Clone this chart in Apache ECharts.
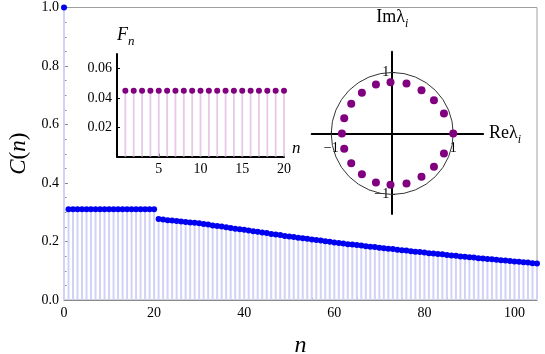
<!DOCTYPE html>
<html>
<head>
<meta charset="utf-8">
<script src="https://cdn.jsdelivr.net/npm/echarts@6/dist/echarts.min.js"></script>
<style>
  html, body { margin: 0; padding: 0; background: #fff; }
  #chart { width: 545px; height: 354px; }
</style>
</head>
<body>
<div id="chart"></div>
<script>
// C(n), n = 0 .. 105 (index is n)
const corr = [
  1.0,
  0.31, 0.31, 0.31, 0.31, 0.31, 0.31, 0.31, 0.31, 0.31, 0.31,
  0.31, 0.31, 0.31, 0.31, 0.31, 0.31, 0.31, 0.31, 0.31, 0.31,
  0.277, 0.275, 0.273, 0.272, 0.270, 0.268, 0.267, 0.265, 0.264, 0.262,
  0.260, 0.258, 0.255, 0.253, 0.251, 0.249, 0.246, 0.244, 0.242, 0.240,
  0.238, 0.235, 0.233, 0.231, 0.229, 0.226, 0.224, 0.222, 0.219, 0.217,
  0.215, 0.213, 0.211, 0.209, 0.207, 0.205, 0.203, 0.201, 0.199, 0.197,
  0.195, 0.193, 0.191, 0.190, 0.188, 0.186, 0.184, 0.182, 0.181, 0.179,
  0.177, 0.175, 0.174, 0.172, 0.170, 0.169, 0.167, 0.165, 0.164, 0.162,
  0.160, 0.159, 0.157, 0.156, 0.154, 0.152, 0.151, 0.149, 0.148, 0.146,
  0.145, 0.143, 0.142, 0.140, 0.139, 0.138, 0.136, 0.135, 0.133, 0.132,
  0.131, 0.129, 0.128, 0.126, 0.125
]

// F_n, n = 1 .. 20
const fN = [1, 2, 3, 4, 5, 6, 7, 8, 9, 10, 11, 12, 13, 14, 15, 16, 17, 18, 19, 20]
const fVals = [0.045, 0.045, 0.045, 0.045, 0.045, 0.045, 0.045, 0.045, 0.045, 0.045,
               0.045, 0.045, 0.045, 0.045, 0.045, 0.045, 0.045, 0.045, 0.045, 0.045]

// eigenvalues lambda_i
const eigRe = [1.0, 0.848, 0.684, 0.480, 0.234, -0.028, -0.267, -0.497, -0.672, -0.787,
               -0.825, -0.787, -0.672, -0.497, -0.267, -0.028, 0.234, 0.480, 0.684, 0.848]
const eigIm = [0, 0.328, 0.546, 0.710, 0.820, 0.841, 0.803, 0.667, 0.487, 0.251,
               0, -0.251, -0.487, -0.667, -0.803, -0.841, -0.820, -0.710, -0.546, -0.328]

const serif = 'Liberation Serif'
const corrPts = corr.map((v, i) => [i, v])
const fPts = fVals.map((v, i) => [fN[i], v])
const eigPts = eigRe.map((r, i) => [r, eigIm[i]])

const grey = '#8a8a8a'
const chart = echarts.init(document.getElementById('chart'))

chart.setOption({
  animation: false,
  grid: [
    { left: 64, right: 8, top: 7.5, bottom: 54, outerBoundsMode: 'none', show: true, borderColor: '#a0a0a0', borderWidth: 1 },
    { left: 117, right: 261, top: 54, bottom: 197.4, outerBoundsMode: 'none' },
    { left: 311.7, right: 61.9, top: 51.7, bottom: 140, outerBoundsMode: 'none' }
  ],
  xAxis: [
    {
      gridIndex: 0, type: 'value', min: 0, max: 105, interval: 20,
      name: 'n', nameLocation: 'middle', nameGap: 34,
      nameTextStyle: { fontFamily: serif, fontStyle: 'italic', fontSize: 24, color: '#000' },
      axisLine: { lineStyle: { color: grey } },
      axisTick: { inside: true, length: 4, lineStyle: { color: grey } },
      minorTick: { show: true, splitNumber: 4, length: 2.5, lineStyle: { color: grey } },
      axisLabel: { showMaxLabel: false, fontFamily: serif, fontSize: 14, color: '#000', margin: 6 },
      splitLine: { show: false }
    },
    {
      gridIndex: 1, type: 'value', min: 0, max: 20, interval: 5,
      name: 'n', nameGap: 8,
      nameTextStyle: { fontFamily: serif, fontStyle: 'italic', fontSize: 17, color: '#000', verticalAlign: 'bottom' },
      axisLine: { lineStyle: { color: '#000', width: 2 } },
      axisTick: { inside: true, length: 3, lineStyle: { color: '#000' } },
      axisLabel: { formatter: v => v === 0 ? '' : v, fontFamily: serif, fontSize: 14, color: '#000', margin: 6 },
      splitLine: { show: false }
    },
    {
      // moved up onto Im = 0 with offset
      gridIndex: 2, type: 'value', min: -1.32, max: 1.49, position: 'bottom', offset: -80.5,
      name: '{r|Reλ}{s|i}', nameGap: 6,
      nameTextStyle: {
        color: '#000',
        rich: {
          r: { fontFamily: serif, fontSize: 18, color: '#000' },
          s: { fontFamily: serif, fontSize: 12, fontStyle: 'italic', color: '#000', padding: [12, 0, 0, 0] }
        }
      },
      axisLine: { onZero: false, lineStyle: { color: '#000', width: 2 } },
      axisTick: { customValues: [-1, 1], inside: true, length: 3, lineStyle: { color: '#000' } },
      axisLabel: {
        customValues: [-1, 1], formatter: v => v < 0 ? '\u22121' : '1',
        fontFamily: serif, fontSize: 14, color: '#000', margin: 8
      },
      splitLine: { show: false }
    }
  ],
  yAxis: [
    {
      gridIndex: 0, type: 'value', min: 0, max: 1, interval: 0.2,
      name: '{i|C}{r|(}{i|n}{r|)}', nameLocation: 'middle', nameGap: 33, nameRotate: 90,
      nameTextStyle: {
        color: '#000',
        rich: {
          i: { fontFamily: serif, fontStyle: 'italic', fontSize: 23, color: '#000' },
          r: { fontFamily: serif, fontSize: 23, color: '#000' }
        }
      },
      axisLine: { lineStyle: { color: grey } },
      axisTick: { inside: true, length: 4, lineStyle: { color: grey } },
      minorTick: { show: true, splitNumber: 4, length: 2.5, lineStyle: { color: grey } },
      axisLabel: { formatter: v => v.toFixed(1), fontFamily: serif, fontSize: 14, color: '#000', margin: 5 },
      splitLine: { show: false }
    },
    {
      gridIndex: 1, type: 'value', min: 0, max: 0.07, interval: 0.02,
      name: '{F|F}{s|n}', nameGap: 6,
      nameTextStyle: {
        color: '#000', align: 'left',
        rich: {
          F: { fontFamily: serif, fontStyle: 'italic', fontSize: 18, color: '#000' },
          s: { fontFamily: serif, fontStyle: 'italic', fontSize: 13, color: '#000', padding: [12, 0, 0, 0] }
        }
      },
      axisLine: { lineStyle: { color: '#000', width: 2 } },
      axisTick: { inside: true, length: 3, lineStyle: { color: '#000' } },
      axisLabel: {
        showMaxLabel: false, formatter: v => v === 0 ? '' : v.toFixed(2),
        fontFamily: serif, fontSize: 14, color: '#000', margin: 5
      },
      splitLine: { show: false }
    },
    {
      // moved right onto Re = 0 with offset
      gridIndex: 2, type: 'value', min: -1.32, max: 1.34, position: 'left', offset: -80.5,
      name: '{r|Imλ}{s|i}', nameGap: 22,
      nameTextStyle: {
        color: '#000',
        rich: {
          r: { fontFamily: serif, fontSize: 18, color: '#000' },
          s: { fontFamily: serif, fontSize: 12, fontStyle: 'italic', color: '#000', padding: [12, 0, 0, 0] }
        }
      },
      axisLine: { onZero: false, lineStyle: { color: '#000', width: 2 } },
      axisTick: { customValues: [-1, 1], inside: true, length: 3, lineStyle: { color: '#000' } },
      axisLabel: {
        customValues: [-1, 1], formatter: v => v < 0 ? '\u22121' : '1',
        fontFamily: serif, fontSize: 14, color: '#000', margin: 3
      },
      splitLine: { show: false }
    }
  ],
  series: [
    {
      type: 'bar', xAxisIndex: 0, yAxisIndex: 0, data: corrPts, barWidth: 2, silent: true,
      itemStyle: { color: '#d2d2f8' }
    },
    {
      type: 'scatter', xAxisIndex: 0, yAxisIndex: 0, data: corrPts, symbolSize: 6,
      itemStyle: { color: '#0000f0', opacity: 1 }
    },
    {
      type: 'bar', xAxisIndex: 1, yAxisIndex: 1, data: fPts, barWidth: 1.8, silent: true,
      itemStyle: { color: '#e8c8e8' }
    },
    {
      type: 'scatter', xAxisIndex: 1, yAxisIndex: 1, data: fPts, symbolSize: 6,
      itemStyle: { color: '#800080', opacity: 1 }
    },
    {
      // unit circle: center (0,0), radius 1
      type: 'custom', xAxisIndex: 2, yAxisIndex: 2, data: [[0, 0, 1]], silent: true,
      renderItem: (params, api) => {
        const c = api.coord([api.value(0), api.value(1)])
        const e = api.coord([api.value(2), 0])
        return {
          type: 'circle',
          shape: { cx: c[0], cy: c[1], r: e[0] - c[0] },
          style: { fill: 'none', stroke: '#333', lineWidth: 1 }
        }
      }
    },
    {
      type: 'scatter', xAxisIndex: 2, yAxisIndex: 2, data: eigPts, symbolSize: 8,
      itemStyle: { color: '#800080', opacity: 1 }, z: 5
    }
  ]
})
</script>
</body>
</html>
